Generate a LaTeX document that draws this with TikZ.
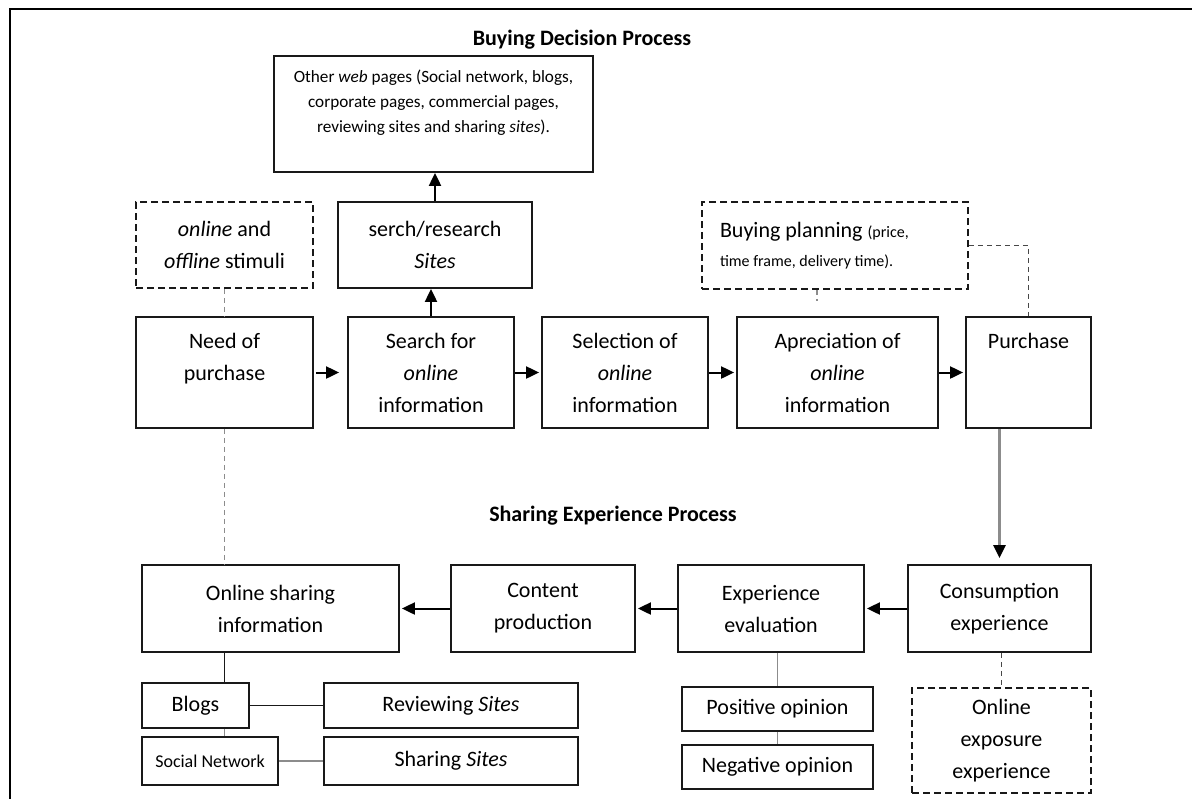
\documentclass[tikz,border=0pt]{standalone}
\usepackage{fontspec}
\setmainfont{Carlito}
\usetikzlibrary{arrows.meta}
\definecolor{LinkClr}{rgb}{0.55,0.55,0.55}
\definecolor{BoxClr}{rgb}{0.1,0.1,0.1}

\begin{document}
\begin{tikzpicture}[x=0.5pt,y=-0.5pt,
  boxsize/.style 2 args={minimum width=#1*0.5pt,minimum height=#2*0.5pt},
  box/.style={draw=BoxClr,line width=0.9pt,inner sep=0pt,align=center,
    font=\fontsize{11}{16}\selectfont},
  dashbox/.style={box,dash pattern=on 3.5pt off 2pt},
  title/.style={font=\fontsize{11}{13}\selectfont\bfseries},
  flow/.style={-{Triangle[length=6.5pt,width=6pt,color=black]},line width=1pt,shorten >=1pt},
  greyflow/.style={flow,draw=LinkClr,line width=1.2pt,shorten >=3pt},
  link/.style={draw=BoxClr,line width=0.9pt},
  greylink/.style={draw=LinkClr,line width=0.9pt},
  dashlink/.style={draw=LinkClr,line width=0.9pt,dash pattern=on 2.5pt off 2pt}]
\useasboundingbox (0,0) rectangle (1192,798);
\clip (0,0) rectangle (1192,798);
\draw[line width=1pt] (10,9) rectangle (1230,840);

% titles
\node[title] (buytitle) at (582,40) {Buying Decision Process};
\node[title] (sharetitle) at (613,516) {Sharing Experience Process};

% buying decision process
\node[box,boxsize={319}{116},font=\fontsize{8.6}{12.5}\selectfont] (other) at (433.5,114)
  {Other \textit{web} pages (Social network, blogs,\\ corporate pages, commercial pages,\\ reviewing sites and sharing \textit{sites}).\\ ~};
\node[dashbox,boxsize={177}{86}] (stimuli) at (224.5,245) {\textit{online} and\\ \textit{offline} stimuli};
\node[box,boxsize={194}{86}] (serch) at (435,245) {serch/research\\ \textit{Sites}};
\node[dashbox,boxsize={266}{87},align=flush left,text width=115pt,font=\fontsize{11}{14.5}\selectfont] (plan) at (835,245.5)
  {Buying planning {\fontsize{8}{10}\selectfont(price,}\\ {\fontsize{8}{10}\selectfont time frame, delivery time).}};

\node[box,boxsize={177}{111}] (need) at (224.5,372.5) {Need of\\ purchase\\ ~};
\node[box,boxsize={166}{111}] (search) at (431,372.5) {Search for\\ \textit{online}\\ information};
\node[box,boxsize={166}{111}] (select) at (625,372.5) {Selection of\\ \textit{online}\\ information};
\node[box,boxsize={201}{111}] (apprec) at (837.5,372.5) {Apreciation of\\ \textit{online}\\ information};
\node[box,boxsize={125}{111}] (purchase) at (1028.5,372.5) {Purchase\\ ~\\ ~};

% sharing experience process
\node[box,boxsize={257}{87}] (share) at (270.5,608.5) {Online sharing\\ information};
\node[box,boxsize={184}{87}] (content) at (543,608.5) {Content\\ production};
\node[box,boxsize={186}{87}] (evalu) at (771,608.5) {Experience\\ evaluation};
\node[box,boxsize={183}{87}] (consump) at (999.5,608.5) {Consumption\\ experience};
\node[box,boxsize={107}{45}] (blogs) at (195.5,705.5) {Blogs};
\node[box,boxsize={254}{45}] (review) at (451,705.5) {Reviewing \textit{Sites}};
\node[box,boxsize={136}{48},font=\fontsize{9}{11}\selectfont] (social) at (210,761) {Social Network};
\node[box,boxsize={254}{48}] (sharesites) at (451,761) {Sharing \textit{Sites}};
\node[box,boxsize={191}{44}] (positive) at (777.5,709) {Positive opinion};
\node[box,boxsize={191}{44}] (negative) at (777.5,767) {Negative opinion};
\node[dashbox,boxsize={179}{105}] (exposure) at (1001.5,740.5) {Online\\ exposure\\ experience};

% connectors
\draw[flow,shorten <=1pt,shorten >=4pt] (need) -- (search);
\draw[flow] (search) -- (select);
\draw[flow] (select) -- (apprec);
\draw[flow] (apprec) -- (purchase);
\draw[flow,shorten >=0pt] (search.north) -- (search.north |- serch.south);
\draw[flow,shorten >=0pt] (serch.north) -- (serch.north |- other.south);
\draw[dashlink] (stimuli) -- (need);
\draw[dashlink] (need.south) -- (need.south |- share.north);
\draw[dashlink,draw=BoxClr!80] (plan.east) -| (purchase.north);
\coordinate (planstub) at (817,301);
\draw[dashlink] (planstub |- plan.south) -- (planstub);
\draw[greyflow] (consump.north |- purchase.south) -- (consump.north);

\draw[flow] (content) -- (share);
\draw[flow] (evalu) -- (content);
\draw[flow] (consump) -- (evalu);
\draw[link] (need.south |- share.south) -- (need.south |- blogs.north);
\draw[greylink] (need.south |- blogs.south) -- (need.south |- social.north);
\draw[link] (blogs) -- (review);
\draw[greylink] (social) -- (sharesites);
\draw[greylink] (positive.north |- evalu.south) -- (positive.north);
\draw[greylink] (positive) -- (negative);
\draw[dashlink,draw=BoxClr!80] (consump.south -| exposure.north) -- (exposure.north);

\end{tikzpicture}
\end{document}
